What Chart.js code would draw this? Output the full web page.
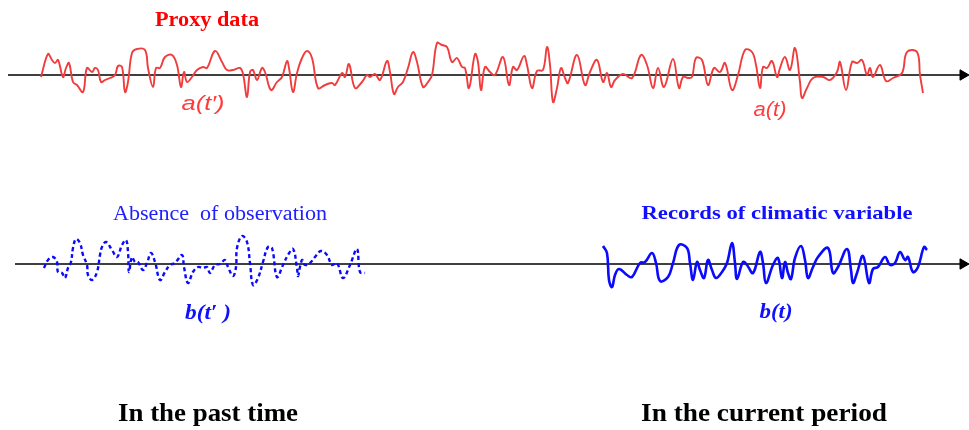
<!DOCTYPE html>
<html>
<head>
<meta charset="utf-8">
<script src="https://cdn.jsdelivr.net/npm/chart.js@4"></script>
<style>
  html, body { margin: 0; padding: 0; background: #fff; }
  #wrap { width: 969px; height: 430px; }
</style>
</head>
<body>
<div id="wrap"><canvas id="chart" width="969" height="430"></canvas></div>
<script>
// time axis (x) and amplitudes (y)

// proxy data a(t), whole record
const redT = [41,48,52,55,58,63,66,69,73,77,83,87,92,95,98,101,105,110,115,118,122,125,128,132,137,145,148,153,156,160,165,172,177,181,184,187,192,197,203,207,215,222,227,233,240,243,247,250,253,257,262,265,271,277,282,287,289,293,297,302,307,312,318,325,332,335,342,345,349,355,362,367,370,375,380,387,390,394,398,403,408,413,417,423,428,432,437,442,447,452,457,462,465,469,475,478,481,485,490,495,503,509,513,517,524,527,532,537,543,547,550,553,557,561,565,568,577,585,590,597,603,607,611,615,623,632,641,647,653,658,664,673,679,683,688,692,696,702,708,714,720,725,732,738,745,752,756,760,763,767,772,777,780,785,790,795,800,802,807,813,823,830,837,840,846,852,857,862,867,870,873,880,886,893,902,907,917,920,923];
const redA = [-2,21,15,12,15,-2,7,12,-7,-10,-17,7,3,7,5,-7,-5,-3,0,9,8,-17,-7,22,26,25,7,-12,7,7,18,20,10,-12,3,-7,-2,5,8,7,24,13,5,5,7,1,-22,3,5,-5,7,3,-15,-7,-2,14,7,-17,2,17,24,17,-13,-10,-8,-10,2,-2,11,-13,-7,0,-2,1,-5,14,3,-19,-12,-7,7,23,13,-12,-7,0,32,30,28,13,17,8,7,-13,21,13,-15,8,3,0,18,-10,8,5,19,10,-13,4,5,28,10,-27,-13,7,-3,-8,20,-10,3,15,-7,2,-12,-5,1,-3,20,10,-13,7,-12,16,-13,-2,-3,-2,17,15,-10,7,3,12,-15,0,25,23,10,-13,8,7,14,-2,7,18,5,27,-7,-23,-13,-3,-2,-5,3,13,-15,13,12,15,0,7,-2,10,-6,-3,2,23,23,0,-18];

// climatic variable b(t'), past (not observed)
const pastT = [44,48,53,57,58,62,65,68,71,73,76,80,83,87,88,92,97,100,102,106,112,117,122,126,128,129,132,135,138,143,147,151,155,160,165,170,175,182,184,188,193,198,203,207,210,215,220,225,228,233,236,237,242,247,250,253,258,263,268,272,277,283,288,293,297,298,302,305,310,315,321,327,332,337,343,350,357,360,365];
const pastA = [-4,4,7,2,-8,-9,-14,-4,2,16,25,21,9,-1,-11,-16,-8,9,17,22,14,7,19,24,12,-8,7,2,2,-6,1,11,2,-16,-8,-1,1,9,-3,-19,-8,-3,-4,-3,-9,-1,0,4,-3,-12,-3,16,28,22,1,-21,-14,2,17,16,-13,-1,9,15,-4,-12,4,-1,1,7,13,9,-1,1,-14,-1,15,-8,-9];

// climatic variable b(t), current records
const nowT = [603,607,609,612,615,619,627,632,640,645,652,656,660,668,673,679,687,690,693,697,700,704,708,712,716,722,727,732,735,737,743,747,753,760,763,766,773,778,782,785,788,791,795,801,805,808,813,818,828,833,838,847,851,853,857,863,869,873,878,885,890,895,900,905,908,913,918,924,927];
const nowA = [18,11,-16,-23,-11,-5,-11,-13,1,2,11,1,-17,-13,1,19,16,1,-16,2,-6,-14,4,-6,-14,-8,1,21,1,-15,2,-1,-9,12,1,-19,-1,6,-14,2,-9,-15,6,18,4,-14,-3,7,16,-9,-3,15,-6,-19,-9,8,-19,-5,-3,7,-1,1,12,4,7,-8,-3,17,14];

// two time axes (start, end of the line) and vertical lane offsets
const axisT = [[8, 960], [15, 960]];
const lanes = [0, -189];

const pts = (t, a, off) => t.map((x, i) => ({ x: x, y: a[i] + off }));

const labels = [
  { text: 'Proxy data', x: 207, y: 26, font: 'bold 20px "Liberation Serif"', color: '#ff0000', w: 104 },
  { text: 'a(t\u2032)', x: 203, y: 110, font: 'italic 20px "Liberation Sans"', color: '#ff3b3b', w: 43 },
  { text: 'a(t)', x: 770, y: 116, font: 'italic 20px "Liberation Sans"', color: '#ff3b3b', w: 33 },
  { text: 'Absence  of observation', x: 220, y: 220, font: '20px "Liberation Serif"', color: '#2020ff', w: 214 },
  { text: 'Records of climatic variable', x: 777, y: 219, font: 'bold 19px "Liberation Serif"', color: '#1010ff', w: 271 },
  { text: 'b(t\u2032 )', x: 208, y: 319, font: 'italic bold 20px "Liberation Serif"', color: '#1010ff', w: 46 },
  { text: 'b(t)', x: 776, y: 318, font: 'italic bold 20px "Liberation Serif"', color: '#1010ff', w: 33 },
  { text: 'In the past time', x: 208, y: 421, font: 'bold 25px "Liberation Serif"', color: '#000', w: 180 },
  { text: 'In the current period', x: 764, y: 421, font: 'bold 25px "Liberation Serif"', color: '#000', w: 246 }
];

const textPlugin = {
  id: 'texts',
  afterDraw(chart) {
    const ctx = chart.ctx;
    labels.forEach(l => {
      ctx.save();
      ctx.font = l.font;
      ctx.fillStyle = l.color;
      ctx.textBaseline = 'alphabetic';
      const m = ctx.measureText(l.text).width;
      const sx = l.w / m;
      ctx.translate(l.x - l.w / 2, l.y);
      ctx.scale(sx, 1);
      ctx.fillText(l.text, 0, 0);
      ctx.restore();
    });
  }
};

const axisSet = (k) => ({
  data: axisT[k].map(x => ({ x: x, y: lanes[k] })),
  borderColor: '#000', borderWidth: 1.5, pointRadius: 0, tension: 0, order: 5
});
const arrowSet = (k) => ({
  data: [{ x: axisT[k][1] + 3, y: lanes[k] }],
  showLine: false, pointStyle: 'triangle', rotation: 90, pointRadius: 6,
  backgroundColor: '#000', borderColor: '#000', borderWidth: 1, order: 5
});

new Chart(document.getElementById('chart'), {
  type: 'line',
  data: {
    datasets: [
      axisSet(0), arrowSet(0), axisSet(1), arrowSet(1),
      { data: pts(redT, redA, lanes[0]), borderColor: '#f03c3c', borderWidth: 1.9, pointRadius: 0, tension: 0.4, order: 1 },
      { data: pts(pastT, pastA, lanes[1]), borderColor: '#0a0aff', borderWidth: 2.4, borderDash: [4, 3], pointRadius: 0, tension: 0.4, order: 1 },
      { data: pts(nowT, nowA, lanes[1]), borderColor: '#0a0aff', borderWidth: 2.6, pointRadius: 0, tension: 0.4, order: 1 }
    ]
  },
  options: {
    responsive: false,
    animation: false,
    clip: false,
    layout: { padding: 0, autoPadding: false },
    plugins: { legend: { display: false }, tooltip: { enabled: false } },
    scales: {
      x: { type: 'linear', display: false, min: 0, max: 969 },
      y: { type: 'linear', display: false, min: -355, max: 75 }
    }
  },
  plugins: [textPlugin]
});
</script>
</body>
</html>
